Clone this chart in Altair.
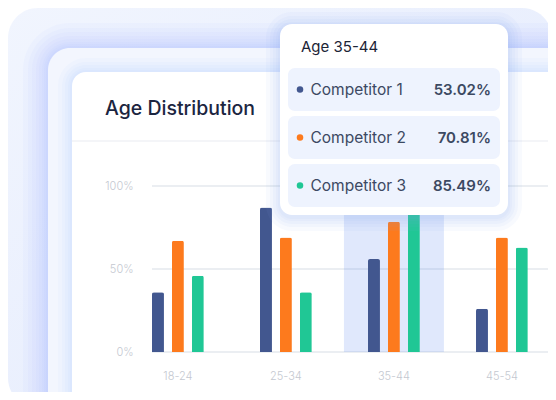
import altair as alt
import pandas as pd

# ---------------- data ----------------
ages = ["18-24", "25-34", "35-44", "45-54"]
competitors = ["Competitor 1", "Competitor 2", "Competitor 3"]
comp1 = [36, 87, 56, 26]
comp2 = [67, 69, 78.5, 69]
comp3 = [46, 36, 85.5, 63]
colors = ["#42578f", "#fd7a1d", "#20c795"]
y_ticks = [0, 50, 100]
highlight_age = "35-44"
tooltip_values = [53.02, 70.81, 85.49]
title_text = "Age Distribution"

rows = []
for ci, (c, vals) in enumerate(zip(competitors, [comp1, comp2, comp3])):
    for a, v in zip(ages, vals):
        rows.append({"age": a, "competitor": c, "value": v})
bars_df = pd.DataFrame(rows)
one = pd.DataFrame({"k": [0]})

W, H = 396, 166
FONT = "Inter"


def xenc():
    return alt.X(
        "age:N",
        sort=ages,
        scale=alt.Scale(domain=ages, paddingInner=0.52, paddingOuter=0.0933, align=0),
        axis=alt.Axis(title=None, domain=False, ticks=False, labelAngle=0,
                      labelPadding=24, labelBaseline="middle", labelFont=FONT,
                      labelFontSize=11, labelFontWeight=300, labelColor="#c4c8d0",
                      zindex=1),
    )


def yenc():
    return alt.Y(
        "value:Q",
        scale=alt.Scale(domain=[0, 100], nice=False),
        axis=alt.Axis(values=y_ticks, labelExpr="datum.value + '%'", title=None,
                      grid=False, domain=False, ticks=False, labelPadding=19,
                      labelFont=FONT, labelFontSize=11, labelFontWeight=300,
                      labelColor="#c4c8d0", zindex=1),
    )


def rect(x, x2, y, y2, **kw):
    return alt.Chart(one).mark_rect(**kw).encode(
        x=alt.value(x), x2=alt.value(x2), y=alt.value(y), y2=alt.value(y2))


def shadow(x, x2, y, y2, r, pads, color, op, dy=0):
    out = []
    for p in pads:
        out.append(rect(x - p, x2 + p, y - p + dy, y2 + p + dy,
                        cornerRadius=r + p, color=color, opacity=op))
    return out


def text(x, y, s, **kw):
    return alt.Chart(one).mark_text(**kw).encode(
        x=alt.value(x), y=alt.value(y), text=alt.value(s))


layers = []
# outer card
layers.append(rect(-144, 400, -178, 222, cornerRadius=30,
                   color=alt.LinearGradient(gradient="linear", x1=0, y1=0, x2=1, y2=1,
                                            stops=[alt.GradientStop(color="#f1f5fe", offset=0),
                                                   alt.GradientStop(color="#e3eafd", offset=1)])))
# second card + shadow
layers += shadow(-104, 500, -138, 300, 22, [2, 4, 6, 9, 12, 16, 20, 25], "#7f9ff5", 0.04)
layers.append(rect(-104, 500, -138, 300, cornerRadius=22, color="#f3f6fe"))
# white card + shadow
layers += shadow(-80, 500, -114, 300, 14, [2, 4, 7, 10, 14], "#7f9ff5", 0.035)
layers.append(rect(-80, 500, -114, 300, cornerRadius=14, color="#ffffff"))
# separator
layers.append(alt.Chart(one).mark_rule(color="#f0f2f6", strokeWidth=1.5).encode(
    x=alt.value(-80), x2=alt.value(W), y=alt.value(-45)))
# title
layers.append(text(-47, -77, title_text, align="left", baseline="middle", font=FONT,
                   fontSize=19.5, fontWeight=500, color="#1b2540"))

# grid lines
grid_df = pd.DataFrame({"value": y_ticks})
layers.append(alt.Chart(grid_df).mark_rule(color="#e4e8ee", strokeWidth=1.5).encode(
    y=yenc(), x=alt.value(0), x2=alt.value(W)))

# highlight band
band_df = pd.DataFrame({"age": [highlight_age], "value": [100], "base": [0]})
layers.append(alt.Chart(band_df).mark_bar(width=alt.RelativeBandSize(1.929),
                                          color="#5b86f0", opacity=0.19).encode(
    x=xenc(), y=yenc(), y2="base:Q"))

# bars
layers.append(alt.Chart(bars_df).mark_bar(cornerRadiusTopLeft=2, cornerRadiusTopRight=2).encode(
    x=xenc(),
    xOffset=alt.XOffset("competitor:N", sort=competitors,
                        scale=alt.Scale(domain=competitors, paddingInner=0.4, paddingOuter=0)),
    y=yenc(),
    color=alt.Color("competitor:N", scale=alt.Scale(domain=competitors, range=colors), legend=None),
))

# tooltip card
tx, tx2, ty, ty2 = 128, 356, -162, 29
layers += shadow(tx, tx2, ty, ty2, 12, [2, 4, 7, 10, 14], "#86a5f6", 0.06, dy=2)
layers.append(rect(tx, tx2, ty, ty2, cornerRadius=12, color="#ffffff"))
layers.append(text(149, -139, "Age " + highlight_age, align="left", baseline="middle",
                   font=FONT, fontSize=15, fontWeight=400, color="#1c2436"))
row_tops = [-118, -70, -22]
row_h = 43
for i, (c, v) in enumerate(zip(competitors, tooltip_values)):
    top = row_tops[i]
    cy = top + row_h / 2
    layers.append(rect(136, 348, top, top + row_h, cornerRadius=7, color="#eef3fe"))
    layers.append(alt.Chart(one).mark_circle(size=42, color=colors[i], opacity=1).encode(
        x=alt.value(148), y=alt.value(cy)))
    layers.append(text(158.5, cy, c, align="left", baseline="middle", font=FONT,
                       fontSize=15.5, fontWeight=400, color="#3c4962"))
    layers.append(text(339, cy, f"{v:.2f}%", align="right", baseline="middle", font=FONT,
                       fontSize=15, fontWeight=600, color="#3c4962"))

chart = alt.layer(*layers).properties(
    width=W, height=H,
    autosize=alt.AutoSizeParams(type="none"),
    padding={"left": 144, "top": 178, "right": 0, "bottom": 40},
    background="#ffffff",
).configure_view(stroke=None)

chart.save("out.html", embed_options={"renderer": "svg", "actions": False})
